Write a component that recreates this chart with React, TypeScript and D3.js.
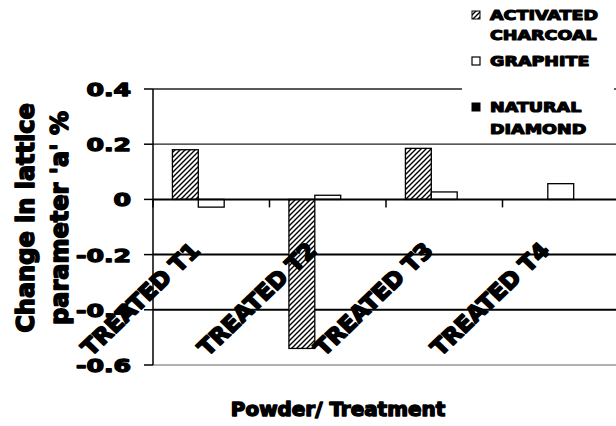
import React from "react";
import * as d3 from "d3";

const categories = ["TREATED T1", "TREATED T2", "TREATED T3", "TREATED T4"];
const seriesNames = ["ACTIVATED CHARCOAL", "GRAPHITE", "NATURAL DIAMOND"];
const charcoalValues: (number | null)[] = [0.18, -0.54, 0.185, null];
const graphiteValues: (number | null)[] = [-0.028, 0.015, 0.027, 0.057];
const diamondValues: (number | null)[] = [0, 0, 0, 0];
const yTickValues = [0.4, 0.2, 0, -0.2, -0.4, -0.6];
const legendLines = [["ACTIVATED", "CHARCOAL"], ["GRAPHITE"], ["NATURAL", "DIAMOND"]];
const yTitleLines = ["Change in lattice", "parameter 'a' %"];
const xTitle = "Powder/ Treatment";

const W = 616;
const H = 426;
const PL = 153;
const PR = 619;
const PT = 89;
const PB = 365;
const FONT = "'DejaVu Sans', sans-serif";

export default function App() {
  const y = d3.scaleLinear().domain([-0.6, 0.4]).range([PB, PT]);
  const x0 = d3.scaleBand<string>().domain(categories).range([PL, PR]).paddingInner(0).paddingOuter(0);
  const x1 = d3
    .scaleBand<string>()
    .domain(seriesNames)
    .range([0, x0.bandwidth()])
    .paddingInner(0)
    .paddingOuter(0.75);
  const seriesValues = [charcoalValues, graphiteValues, diamondValues];
  const fills = ["url(#hatch)", "#ffffff", "#000000"];
  const y0 = y(0);

  const gridStyle = (v: number) => {
    if (v === -0.6) return { stroke: "#666", width: 1 };
    if (v < 0) return { stroke: "#000", width: 2 };
    return { stroke: "#222", width: 1.3 };
  };

  const boundaries = categories.map((c) => x0(c)!).concat([PR]);

  return (
    <svg
      width={W}
      height={H}
      style={{ position: "absolute", left: 0, top: 0, background: "#fff" }}
      fontFamily={FONT}
      fontWeight="bold"
    >
      <defs>
        <pattern id="hatch" patternUnits="userSpaceOnUse" width={5} height={5}>
          <rect width={5} height={5} fill="#fff" />
          <path d="M-1,6 L6,-1 M-1,1 L1,-1 M4,6 L6,4" stroke="#000" strokeWidth={1.4} />
        </pattern>
      </defs>
      <rect x={0} y={0} width={W} height={H} fill="#fff" />

      {yTickValues
        .filter((v) => v !== 0)
        .map((v) => {
          const s = gridStyle(v);
          return (
            <line key={"g" + v} x1={PL} x2={W} y1={y(v)} y2={y(v)} stroke={s.stroke} strokeWidth={s.width} />
          );
        })}

      {categories.map((c, ci) =>
        seriesNames.map((sn, si) => {
          const v = seriesValues[si][ci];
          if (v === null || v === undefined) return null;
          const bx = x0(c)! + x1(sn)!;
          const top = Math.min(y(v), y0);
          const h = Math.abs(y(v) - y0);
          if (h < 0.5) return null;
          return (
            <rect
              key={c + sn}
              x={bx}
              y={top}
              width={x1.bandwidth()}
              height={h}
              fill={fills[si]}
              stroke="#000"
              strokeWidth={1.3}
            />
          );
        })
      )}

      <line x1={PL} x2={W} y1={y0} y2={y0} stroke="#000" strokeWidth={2} />
      {boundaries.map((bx, i) => (
        <line key={"xt" + i} x1={bx} x2={bx} y1={y0} y2={y0 + 8} stroke="#000" strokeWidth={1.5} />
      ))}
      <line x1={PL} x2={PL} y1={PT} y2={PB} stroke="#000" strokeWidth={1.5} />
      {yTickValues.map((v) => (
        <line key={"yt" + v} x1={PL - 9} x2={PL} y1={y(v)} y2={y(v)} stroke="#000" strokeWidth={1.5} />
      ))}
      {yTickValues.map((v) => (
        <g key={"yl" + v} transform={`translate(${PL - 22},${y(v) + 7}) scale(1.4,1)`}>
          <text textAnchor="end" fontSize={18} fill="#000" stroke="#000" strokeWidth={1.3} strokeLinejoin="round">
            {String(v)}
          </text>
        </g>
      ))}

      {categories.map((c) => (
        <g key={"cl" + c} transform={`translate(${x0(c)! + x0.bandwidth() / 2 - 10},252) scale(1.05,1) rotate(-45)`}>
          <text textAnchor="end" fontSize={22} fill="#000" stroke="#000" strokeWidth={1.7} strokeLinejoin="round">
            {c}
          </text>
        </g>
      ))}

      <g transform="translate(462,0)">
        <rect x={0} y={0} width={152} height={140} fill="#fff" />
        <rect x={10} y={11} width={8} height={8} fill="url(#hatch)" stroke="#000" strokeWidth={1} />
        <rect x={10} y={57} width={8} height={8} fill="#fff" stroke="#000" strokeWidth={1.2} />
        <rect x={10} y={103} width={8} height={8} fill="#000" stroke="#000" strokeWidth={1} />
        {[
          [20, 40],
          [66],
          [112, 134],
        ].map((bases, i) =>
          bases.map((b, j) => (
            <g key={"lg" + i + j} transform={`translate(28,${b}) scale(1.3,1)`}>
              <text fontSize={13.5} fill="#000" stroke="#000" strokeWidth={1.1} strokeLinejoin="round">
                {legendLines[i][j]}
              </text>
            </g>
          ))
        )}
      </g>

      {yTitleLines.map((t, i) => (
        <g key={"ytl" + i} transform={`translate(${34 + i * 34},218) rotate(-90)`}>
          <text textAnchor="middle" fontSize={24} fill="#000" stroke="#000" strokeWidth={1.6} strokeLinejoin="round">
            {t}
          </text>
        </g>
      ))}

      <g transform="translate(338,416) scale(1.05,1)">
        <text textAnchor="middle" fontSize={19} fill="#000" stroke="#000" strokeWidth={1.4} strokeLinejoin="round">
          {xTitle}
        </text>
      </g>
    </svg>
  );
}
